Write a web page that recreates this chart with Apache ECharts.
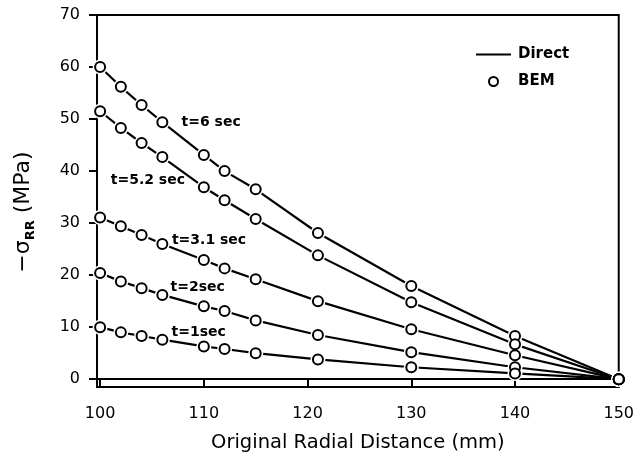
<!DOCTYPE html>
<html><head><meta charset="utf-8">
<script src="https://cdn.jsdelivr.net/npm/echarts@6/dist/echarts.min.js"></script>
<style>html,body{margin:0;padding:0;background:#fff}#c{width:637px;height:458px}</style>
</head><body><div id="c"></div>
<script>
const xValues = [100, 102, 104, 106, 110, 112, 115, 121, 130, 140, 150];
const t6  = [60.0, 56.2, 52.7, 49.4, 43.1, 40.0, 36.5, 28.1, 17.9, 8.3, 0];
const t52 = [51.5, 48.3, 45.4, 42.7, 36.9, 34.4, 30.8, 23.8, 14.8, 6.7, 0];
const t31 = [31.1, 29.4, 27.7, 26.0, 22.9, 21.3, 19.2, 15.0, 9.6, 4.6, 0];
const t2  = [20.4, 18.8, 17.5, 16.2, 14.0, 13.1, 11.3, 8.5, 5.2, 2.3, 0];
const t1  = [10.0, 9.0, 8.3, 7.6, 6.3, 5.8, 5.0, 3.8, 2.3, 1.1, 0];
const curveLabels = ['t=6 sec', 't=5.2 sec', 't=3.1 sec', 't=2sec', 't=1sec'];
const labelX = [110.7, 104.6, 110.5, 109.4, 109.5];
const labelY = [49.4, 38.3, 26.7, 17.7, 9.0];
const xTicks = [100, 110, 120, 130, 140, 150];
const yTicks = [0, 10, 20, 30, 40, 50, 60, 70];

const curves = [t6, t52, t31, t2, t1];
const FONT = 'DejaVu Sans';
const pairs = arr => xValues.map((x, i) => [x, arr[i]]);

const series = [];
curves.forEach(c => {
  series.push({
    name: 'Direct', type: 'line', data: pairs(c), symbol: 'none', z: 2,
    lineStyle: { color: '#000', width: 2.2 }, itemStyle: { color: '#000' }
  });
});
curves.forEach(c => {
  series.push({
    name: 'halo', type: 'scatter', data: pairs(c), symbol: 'circle', symbolSize: 15, z: 3,
    itemStyle: { color: '#fff', opacity: 1 }, silent: true
  });
});
curves.forEach(c => {
  series.push({
    name: 'BEM', type: 'scatter', data: pairs(c), symbol: 'circle', symbolSize: 10, z: 4,
    itemStyle: { color: '#fff', borderColor: '#000', borderWidth: 2, opacity: 1 }
  });
});
series.push({
  name: 'labels', type: 'scatter', z: 5, symbolSize: 0,
  itemStyle: { color: '#000', opacity: 1 },
  data: curveLabels.map((t, i) => ({ name: t, value: [labelX[i], labelY[i]] })),
  label: { show: true, position: 'inside', formatter: '{b}', color: '#000', opacity: 1,
           textBorderWidth: 0, fontFamily: FONT, fontWeight: 'bold', fontSize: 14 }
});

const chart = echarts.init(document.getElementById('c'), null, { renderer: 'canvas' });
chart.setOption({
  animation: false,
  backgroundColor: '#fff',
  grid: { left: 97, right: 16, top: 15, bottom: 71, show: true, borderColor: '#000', borderWidth: 2 },
  legend: {
    data: [{ name: 'Direct', itemStyle: { opacity: 0 } }, { name: 'BEM', itemStyle: { borderWidth: 2 } }],
    orient: 'vertical', left: 470, top: 42,
    itemWidth: 35, itemHeight: 9, itemGap: 12,
    textStyle: { fontFamily: FONT, fontWeight: 'bold', fontSize: 15, color: '#000', padding: [0, 0, 0, 2] }
  },
  xAxis: {
    type: 'value', min: 99.7, max: 150,
    axisLine: { lineStyle: { color: '#000', width: 2 } },
    axisTick: { show: true, length: 8, customValues: xTicks, lineStyle: { color: '#000', width: 2 } },
    axisLabel: { customValues: xTicks, margin: 19, color: '#000', fontFamily: FONT, fontSize: 16 },
    splitLine: { show: false },
    name: 'Original Radial Distance (mm)', nameLocation: 'middle', nameGap: 46,
    nameTextStyle: { fontFamily: FONT, fontSize: 19.5, color: '#000' }
  },
  yAxis: {
    type: 'value', min: -1.5, max: 70,
    axisLine: { lineStyle: { color: '#000', width: 2 } },
    axisTick: { show: true, length: 8, customValues: yTicks, lineStyle: { color: '#000', width: 2 } },
    axisLabel: { customValues: yTicks, margin: 17, color: '#000', fontFamily: FONT, fontSize: 16 },
    splitLine: { show: false },
    name: '−σ{sub|RR} (MPa)', nameLocation: 'middle', nameGap: 60, nameRotate: 90,
    nameTextStyle: {
      fontFamily: FONT, fontSize: 22, color: '#000', lineHeight: 28, padding: [0, 22, 0, 0],
      rich: { sub: { fontFamily: FONT, fontSize: 13, fontWeight: 'bold', color: '#000', verticalAlign: 'bottom', lineHeight: 14, padding: [13, 0, 0, 0] } }
    }
  },
  series: series
});
</script>
</body></html>
